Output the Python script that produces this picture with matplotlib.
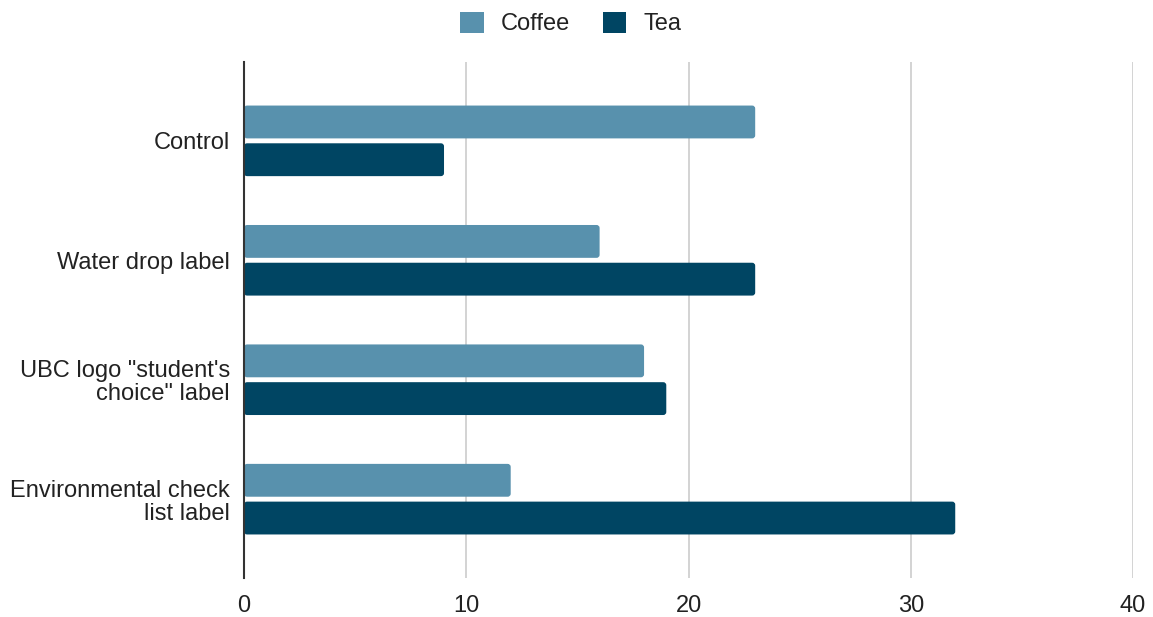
import numpy as np
import matplotlib.pyplot as plt
from matplotlib.patches import FancyBboxPatch

categories = ['Control', 'Water drop label', 'UBC logo "student\'s\nchoice" label',
              'Environmental check\nlist label']
coffee = [23, 16, 18, 12]
tea = [9, 23, 19, 32]
series_names = ['Coffee', 'Tea']
xticks = [0, 10, 20, 30, 40]

c_coffee = '#5891ad'
c_tea = '#004563'

plt.rcParams['font.family'] = ['Liberation Sans', 'DejaVu Sans']

fig = plt.figure(figsize=(11.53, 6.17), dpi=100)
ax = fig.add_axes([0.2116, 0.0632, 0.7711, 0.8363])

y = np.arange(len(categories))
h = 0.275
b1 = ax.barh(y - 0.158, coffee, height=h, color=c_coffee, label=series_names[0], zorder=3)
b2 = ax.barh(y + 0.158, tea, height=h, color=c_tea, label=series_names[1], zorder=3)

# swap plain bars for rounded ones
for bars in (b1, b2):
    for r in bars:
        x0, y0 = r.get_x(), r.get_y()
        w, hh = r.get_width(), r.get_height()
        p = FancyBboxPatch((x0, y0), w, hh,
                           boxstyle="round,pad=0,rounding_size=0.14",
                           mutation_aspect=0.18,
                           fc=r.get_facecolor(), ec='none', zorder=3)
        r.set_visible(False)
        ax.add_patch(p)

ax.set_xlim(0, 40)
ax.set_ylim(len(categories) - 1 + 0.66, -0.66)
ax.set_xticks(xticks)
ax.set_yticks(y)
ax.set_yticklabels(categories, ha='right', multialignment='right', linespacing=1.05)
ax.tick_params(axis='both', length=0, labelsize=17, colors='#222222')
ax.tick_params(axis='x', pad=12)
ax.tick_params(axis='y', pad=10)
ax.grid(axis='x', color='#cccccc', lw=1.2, zorder=0)

for s in ['top', 'right', 'bottom']:
    ax.spines[s].set_visible(False)
ax.spines['left'].set_color('#333333')
ax.spines['left'].set_linewidth(1.5)
ax.spines['left'].set_zorder(4)

handles = [FancyBboxPatch((0, 0), 1, 1, boxstyle="round,pad=0,rounding_size=0.1", fc=c_coffee, ec='none'),
           FancyBboxPatch((0, 0), 1, 1, boxstyle="round,pad=0,rounding_size=0.1", fc=c_tea, ec='none')]
leg = fig.legend(handles, series_names, loc='center', bbox_to_anchor=(0.495, 0.962),
                 ncol=2, frameon=False, fontsize=17, handlelength=1.0, handleheight=1.0,
                 handletextpad=0.7, columnspacing=1.4)
for t in leg.get_texts():
    t.set_color('#222222')

plt.savefig('out.png', dpi=100)
